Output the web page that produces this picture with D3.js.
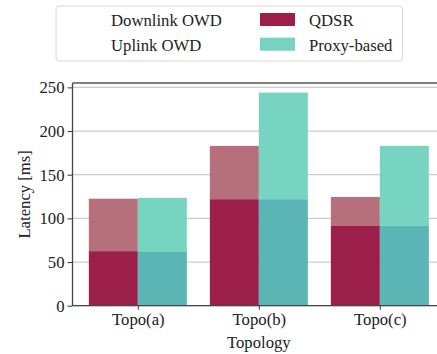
<!DOCTYPE html>
<html><head><meta charset="utf-8">
<script src="https://cdn.jsdelivr.net/npm/d3@7"></script>
<style>body{margin:0;background:#fff}svg{display:block;font-family:"Liberation Serif","Times New Roman",serif}</style>
</head><body>
<svg id="c" width="437" height="354"></svg>
<script>
const categories = ["Topo(a)", "Topo(b)", "Topo(c)"];
const series = ["QDSR", "Proxy-based"];
const qdsrDownlink = [62.5, 122, 92];
const qdsrUplink = [60, 61, 32.5];
const proxyDownlink = [61.5, 122, 92];
const proxyUplink = [62, 122, 91];
const yTicks = [0, 50, 100, 150, 200, 250];
const owdLabels = ["Downlink OWD", "Uplink OWD"];

const colors = {
  "QDSR": {down: "#9c1f4a", up: "#b5707b"},
  "Proxy-based": {down: "#5bb5b4", up: "#76d4c0"}
};

const svg = d3.select("#c");
const mLeft = 72.5, mBottom = 305.7, mTop = 83;
const x = d3.scaleLinear().domain([-0.54, 2.54]).range([mLeft, mLeft + 121 * 3.08]);
const y = d3.scaleLinear().domain([0, 255]).range([mBottom, mTop]);
const barW = 0.405;

// grid
svg.append("g").selectAll("line").data(yTicks).join("line")
  .attr("x1", mLeft).attr("x2", 437)
  .attr("y1", d => y(d)).attr("y2", d => y(d))
  .attr("stroke", "#cccccc").attr("stroke-width", 1.2);

const data = [
  {s: "QDSR", down: qdsrDownlink, up: qdsrUplink, off: -barW},
  {s: "Proxy-based", down: proxyDownlink, up: proxyUplink, off: 0}
];
const g = svg.append("g");
data.forEach(ser => {
  categories.forEach((c, i) => {
    const x0 = x(i + ser.off), x1 = x(i + ser.off + barW);
    g.append("rect").attr("x", x0).attr("width", x1 - x0)
      .attr("y", y(ser.down[i])).attr("height", y(0) - y(ser.down[i]))
      .attr("fill", colors[ser.s].down);
    const tot = ser.down[i] + ser.up[i];
    g.append("rect").attr("x", x0).attr("width", x1 - x0)
      .attr("y", y(tot)).attr("height", y(ser.down[i]) - y(tot))
      .attr("fill", colors[ser.s].up);
  });
});

// spines
svg.append("line").attr("x1", mLeft).attr("x2", 437).attr("y1", mTop).attr("y2", mTop).attr("stroke", "#555").attr("stroke-width", 1.3);
svg.append("line").attr("x1", mLeft).attr("x2", 437).attr("y1", mBottom).attr("y2", mBottom).attr("stroke", "#444").attr("stroke-width", 1.3);
svg.append("line").attr("x1", mLeft).attr("x2", mLeft).attr("y1", mTop).attr("y2", mBottom).attr("stroke", "#444").attr("stroke-width", 1.3);

// y axis
const ya = svg.append("g").attr("transform", `translate(${mLeft},0)`)
  .call(d3.axisLeft(y).tickValues(yTicks).tickSize(5).tickPadding(3));
ya.select(".domain").remove();
ya.selectAll("line").attr("stroke", "#444").attr("stroke-width", 1.1);
ya.selectAll("text").attr("font-family", "Liberation Serif").attr("font-size", 16.7).attr("fill", "#222");

// x axis
const xa = svg.append("g").attr("transform", `translate(0,${mBottom})`)
  .call(d3.axisBottom(x).tickValues([0, 1, 2]).tickFormat(i => categories[i]).tickSize(4).tickPadding(3));
xa.select(".domain").remove();
xa.selectAll("line").attr("stroke", "#444").attr("stroke-width", 1.1);
xa.selectAll("text").attr("font-family", "Liberation Serif").attr("font-size", 16.7).attr("fill", "#222");

svg.append("text").attr("x", x(1)).attr("y", 348).attr("text-anchor", "middle")
  .attr("font-size", 16.7).attr("fill", "#222").text("Topology");
svg.append("text").attr("transform", `translate(30,${(mTop + mBottom) / 2}) rotate(-90)`)
  .attr("text-anchor", "middle").attr("font-size", 16.7).attr("fill", "#222").text("Latency [ms]");

// legend
const lg = svg.append("g");
lg.append("rect").attr("x", 56).attr("y", 6).attr("width", 346.5).attr("height", 55).attr("rx", 3)
  .attr("fill", "#fff").attr("stroke", "#d8d8d8").attr("stroke-width", 1);
owdLabels.forEach((t, i) => {
  lg.append("text").attr("x", 111).attr("y", 26 + i * 24.5).attr("font-size", 16.7).attr("fill", "#222").text(t);
});
series.forEach((s, i) => {
  lg.append("rect").attr("x", 260).attr("y", 13 + i * 24.7).attr("width", 35).attr("height", 13)
    .attr("fill", i === 0 ? colors[s].down : colors[s].up);
  lg.append("text").attr("x", 309).attr("y", 26 + i * 24.5).attr("font-size", 16.7).attr("fill", "#222").text(s);
});
</script>
</body></html>
